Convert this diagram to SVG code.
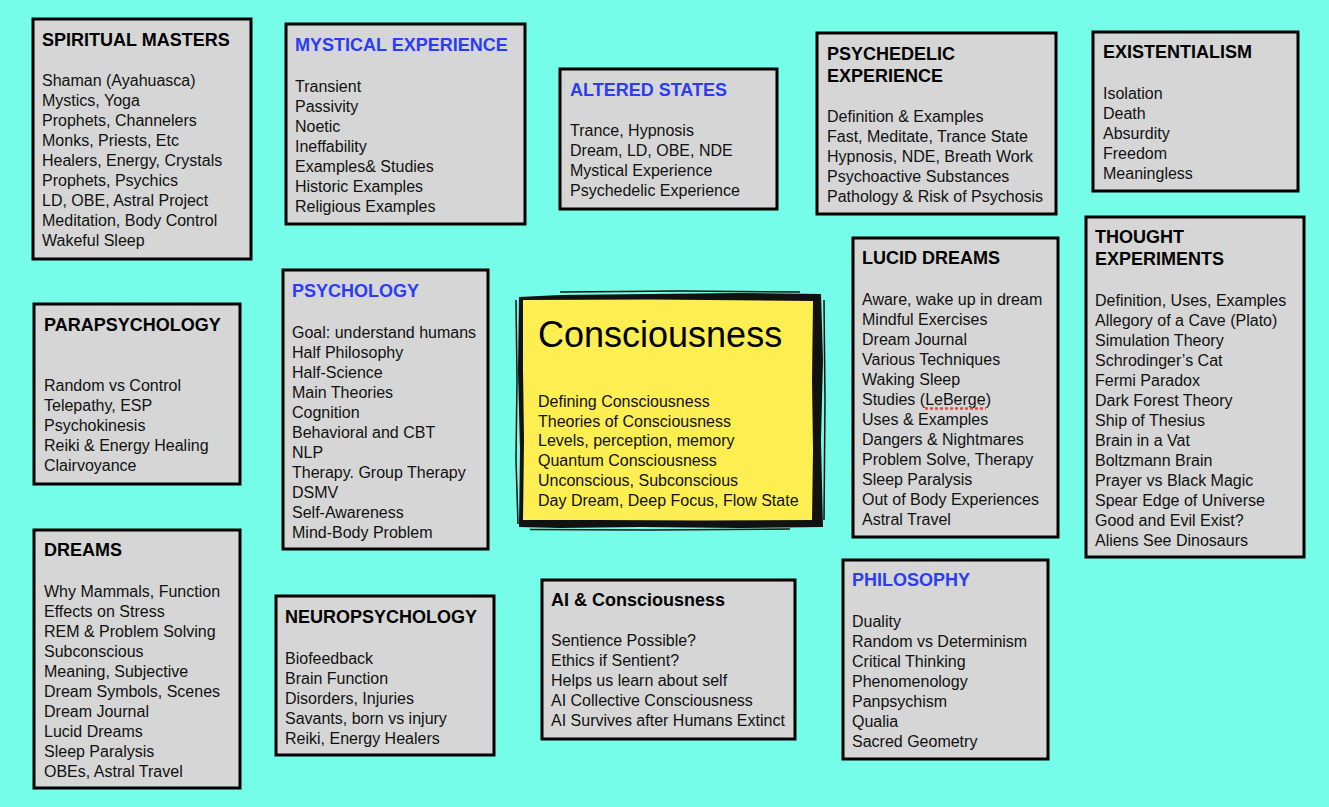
<svg xmlns="http://www.w3.org/2000/svg" width="1329" height="807" viewBox="0 0 1329 807">
<style>
.bg{fill:#76FDE9}
.box{fill:#D6D6D6;stroke:#000;stroke-width:3}
text{font-family:"Liberation Sans",Arial,Helvetica,sans-serif;fill:#111}
.t{font-size:18px;font-weight:bold;fill:#000}
.tb{font-size:18px;font-weight:bold;fill:#2A3CF6}
.i{font-size:16px}
.big{font-size:36px;fill:#000}
.brush{fill:none;stroke:#111;stroke-width:1.5}
</style>
<rect class="bg" x="0" y="0" width="1329" height="807"/>
<g id="connectors"></g>

<g id="spiritual-masters">
<rect class="box" x="33" y="19" width="218" height="240"/>
<text class="t" x="42" y="46">SPIRITUAL MASTERS</text>
<text class="i" x="42" y="86">Shaman (Ayahuasca)</text>
<text class="i" x="42" y="106">Mystics, Yoga</text>
<text class="i" x="42" y="126">Prophets, Channelers</text>
<text class="i" x="42" y="146">Monks, Priests, Etc</text>
<text class="i" x="42" y="166">Healers, Energy, Crystals</text>
<text class="i" x="42" y="186">Prophets, Psychics</text>
<text class="i" x="42" y="206">LD, OBE, Astral Project</text>
<text class="i" x="42" y="226">Meditation, Body Control</text>
<text class="i" x="42" y="246">Wakeful Sleep</text>
</g>

<g id="mystical-experience">
<rect class="box" x="286" y="24" width="239" height="200"/>
<text class="tb" x="295" y="51">MYSTICAL EXPERIENCE</text>
<text class="i" x="295" y="92">Transient</text>
<text class="i" x="295" y="112">Passivity</text>
<text class="i" x="295" y="132">Noetic</text>
<text class="i" x="295" y="152">Ineffability</text>
<text class="i" x="295" y="172">Examples&amp; Studies</text>
<text class="i" x="295" y="192">Historic Examples</text>
<text class="i" x="295" y="212">Religious Examples</text>
</g>

<g id="altered-states">
<rect class="box" x="560" y="69" width="217" height="140"/>
<text class="tb" x="570" y="96">ALTERED STATES</text>
<text class="i" x="570" y="136">Trance, Hypnosis</text>
<text class="i" x="570" y="156">Dream, LD, OBE, NDE</text>
<text class="i" x="570" y="176">Mystical Experience</text>
<text class="i" x="570" y="196">Psychedelic Experience</text>
</g>

<g id="psychedelic-experience">
<rect class="box" x="817" y="33" width="239" height="181"/>
<text class="t" x="827" y="60">PSYCHEDELIC</text>
<text class="t" x="827" y="82">EXPERIENCE</text>
<text class="i" x="827" y="122">Definition &amp; Examples</text>
<text class="i" x="827" y="142">Fast, Meditate, Trance State</text>
<text class="i" x="827" y="162">Hypnosis, NDE, Breath Work</text>
<text class="i" x="827" y="182">Psychoactive Substances</text>
<text class="i" x="827" y="202">Pathology &amp; Risk of Psychosis</text>
</g>

<g id="existentialism">
<rect class="box" x="1093" y="32" width="205" height="159"/>
<text class="t" x="1103" y="58">EXISTENTIALISM</text>
<text class="i" x="1103" y="99">Isolation</text>
<text class="i" x="1103" y="119">Death</text>
<text class="i" x="1103" y="139">Absurdity</text>
<text class="i" x="1103" y="159">Freedom</text>
<text class="i" x="1103" y="179">Meaningless</text>
</g>

<g id="parapsychology">
<rect class="box" x="34" y="304" width="206" height="180"/>
<text class="t" x="44" y="331">PARAPSYCHOLOGY</text>
<text class="i" x="44" y="391">Random vs Control</text>
<text class="i" x="44" y="411">Telepathy, ESP</text>
<text class="i" x="44" y="431">Psychokinesis</text>
<text class="i" x="44" y="451">Reiki &amp; Energy Healing</text>
<text class="i" x="44" y="471">Clairvoyance</text>
</g>

<g id="psychology">
<rect class="box" x="283" y="270" width="205" height="279"/>
<text class="tb" x="292" y="297">PSYCHOLOGY</text>
<text class="i" x="292" y="338">Goal: understand humans</text>
<text class="i" x="292" y="358">Half Philosophy</text>
<text class="i" x="292" y="378">Half-Science</text>
<text class="i" x="292" y="398">Main Theories</text>
<text class="i" x="292" y="418">Cognition</text>
<text class="i" x="292" y="438">Behavioral and CBT</text>
<text class="i" x="292" y="458">NLP</text>
<text class="i" x="292" y="478">Therapy. Group Therapy</text>
<text class="i" x="292" y="498">DSMV</text>
<text class="i" x="292" y="518">Self-Awareness</text>
<text class="i" x="292" y="538">Mind-Body Problem</text>
</g>

<g id="consciousness">
<path d="M519 297 L560 295 L650 294 L740 293 L821 294 L823 360 L821 440 L823 527 L740 528 L640 527 L560 528 L519 527 L520 450 L518 370 Z" fill="#111"/>
<path class="brush" d="M516 300 L517 380 L516 460 L518 524"/>
<path class="brush" d="M560 292 L680 291 L800 292"/>
<path class="brush" d="M824 300 L825 400 L824 520"/>
<path class="brush" d="M530 529.5 L650 530 L790 529"/>
<path d="M523 300 L650 299.5 L813 301 L812 380 L813 450 L812 520 L700 520.5 L600 520 L523 520 L524 440 L523 370 Z" fill="#FDEE52"/>
<text class="big" x="538" y="347">Consciousness</text>
<text class="i" x="538" y="407">Defining Consciousness</text>
<text class="i" x="538" y="427">Theories of Consciousness</text>
<text class="i" x="538" y="446">Levels, perception, memory</text>
<text class="i" x="538" y="466">Quantum Consciousness</text>
<text class="i" x="538" y="486">Unconscious, Subconscious</text>
<text class="i" x="538" y="506">Day Dream, Deep Focus, Flow State</text>
</g>

<g id="lucid-dreams">
<rect class="box" x="853" y="238" width="205" height="299"/>
<text class="t" x="862" y="264">LUCID DREAMS</text>
<text class="i" x="862" y="305">Aware, wake up in dream</text>
<text class="i" x="862" y="325">Mindful Exercises</text>
<text class="i" x="862" y="345">Dream Journal</text>
<text class="i" x="862" y="365">Various Techniques</text>
<text class="i" x="862" y="385">Waking Sleep</text>
<text class="i" x="862" y="405">Studies (LeBerge)</text>
<line x1="925" y1="408.5" x2="986" y2="408.5" stroke="#EE4444" stroke-width="2.5" stroke-dasharray="3 2"/>
<text class="i" x="862" y="425">Uses &amp; Examples</text>
<text class="i" x="862" y="445">Dangers &amp; Nightmares</text>
<text class="i" x="862" y="465">Problem Solve, Therapy</text>
<text class="i" x="862" y="485">Sleep Paralysis</text>
<text class="i" x="862" y="505">Out of Body Experiences</text>
<text class="i" x="862" y="525">Astral Travel</text>
</g>

<g id="thought-experiments">
<rect class="box" x="1086" y="217" width="218" height="340"/>
<text class="t" x="1095" y="243">THOUGHT</text>
<text class="t" x="1095" y="265">EXPERIMENTS</text>
<text class="i" x="1095" y="306">Definition, Uses, Examples</text>
<text class="i" x="1095" y="326">Allegory of a Cave (Plato)</text>
<text class="i" x="1095" y="346">Simulation Theory</text>
<text class="i" x="1095" y="366">Schrodinger’s Cat</text>
<text class="i" x="1095" y="386">Fermi Paradox</text>
<text class="i" x="1095" y="406">Dark Forest Theory</text>
<text class="i" x="1095" y="426">Ship of Thesius</text>
<text class="i" x="1095" y="446">Brain in a Vat</text>
<text class="i" x="1095" y="466">Boltzmann Brain</text>
<text class="i" x="1095" y="486">Prayer vs Black Magic</text>
<text class="i" x="1095" y="506">Spear Edge of Universe</text>
<text class="i" x="1095" y="526">Good and Evil Exist?</text>
<text class="i" x="1095" y="546">Aliens See Dinosaurs</text>
</g>

<g id="dreams">
<rect class="box" x="34" y="530" width="206" height="258"/>
<text class="t" x="44" y="556">DREAMS</text>
<text class="i" x="44" y="597">Why Mammals, Function</text>
<text class="i" x="44" y="617">Effects on Stress</text>
<text class="i" x="44" y="637">REM &amp; Problem Solving</text>
<text class="i" x="44" y="657">Subconscious</text>
<text class="i" x="44" y="677">Meaning, Subjective</text>
<text class="i" x="44" y="697">Dream Symbols, Scenes</text>
<text class="i" x="44" y="717">Dream Journal</text>
<text class="i" x="44" y="737">Lucid Dreams</text>
<text class="i" x="44" y="757">Sleep Paralysis</text>
<text class="i" x="44" y="777">OBEs, Astral Travel</text>
</g>

<g id="neuropsychology">
<rect class="box" x="276" y="596" width="218" height="159"/>
<text class="t" x="285" y="623">NEUROPSYCHOLOGY</text>
<text class="i" x="285" y="664">Biofeedback</text>
<text class="i" x="285" y="684">Brain Function</text>
<text class="i" x="285" y="704">Disorders, Injuries</text>
<text class="i" x="285" y="724">Savants, born vs injury</text>
<text class="i" x="285" y="744">Reiki, Energy Healers</text>
</g>

<g id="ai-consciousness">
<rect class="box" x="542" y="580" width="253" height="159"/>
<text class="t" x="551" y="606">AI &amp; Consciousness</text>
<text class="i" x="551" y="646">Sentience Possible?</text>
<text class="i" x="551" y="666">Ethics if Sentient?</text>
<text class="i" x="551" y="686">Helps us learn about self</text>
<text class="i" x="551" y="706">AI Collective Consciousness</text>
<text class="i" x="551" y="726">AI Survives after Humans Extinct</text>
</g>

<g id="philosophy">
<rect class="box" x="843" y="560" width="205" height="199"/>
<text class="tb" x="852" y="586">PHILOSOPHY</text>
<text class="i" x="852" y="627">Duality</text>
<text class="i" x="852" y="647">Random vs Determinism</text>
<text class="i" x="852" y="667">Critical Thinking</text>
<text class="i" x="852" y="687">Phenomenology</text>
<text class="i" x="852" y="707">Panpsychism</text>
<text class="i" x="852" y="727">Qualia</text>
<text class="i" x="852" y="747">Sacred Geometry</text>
</g>
</svg>
